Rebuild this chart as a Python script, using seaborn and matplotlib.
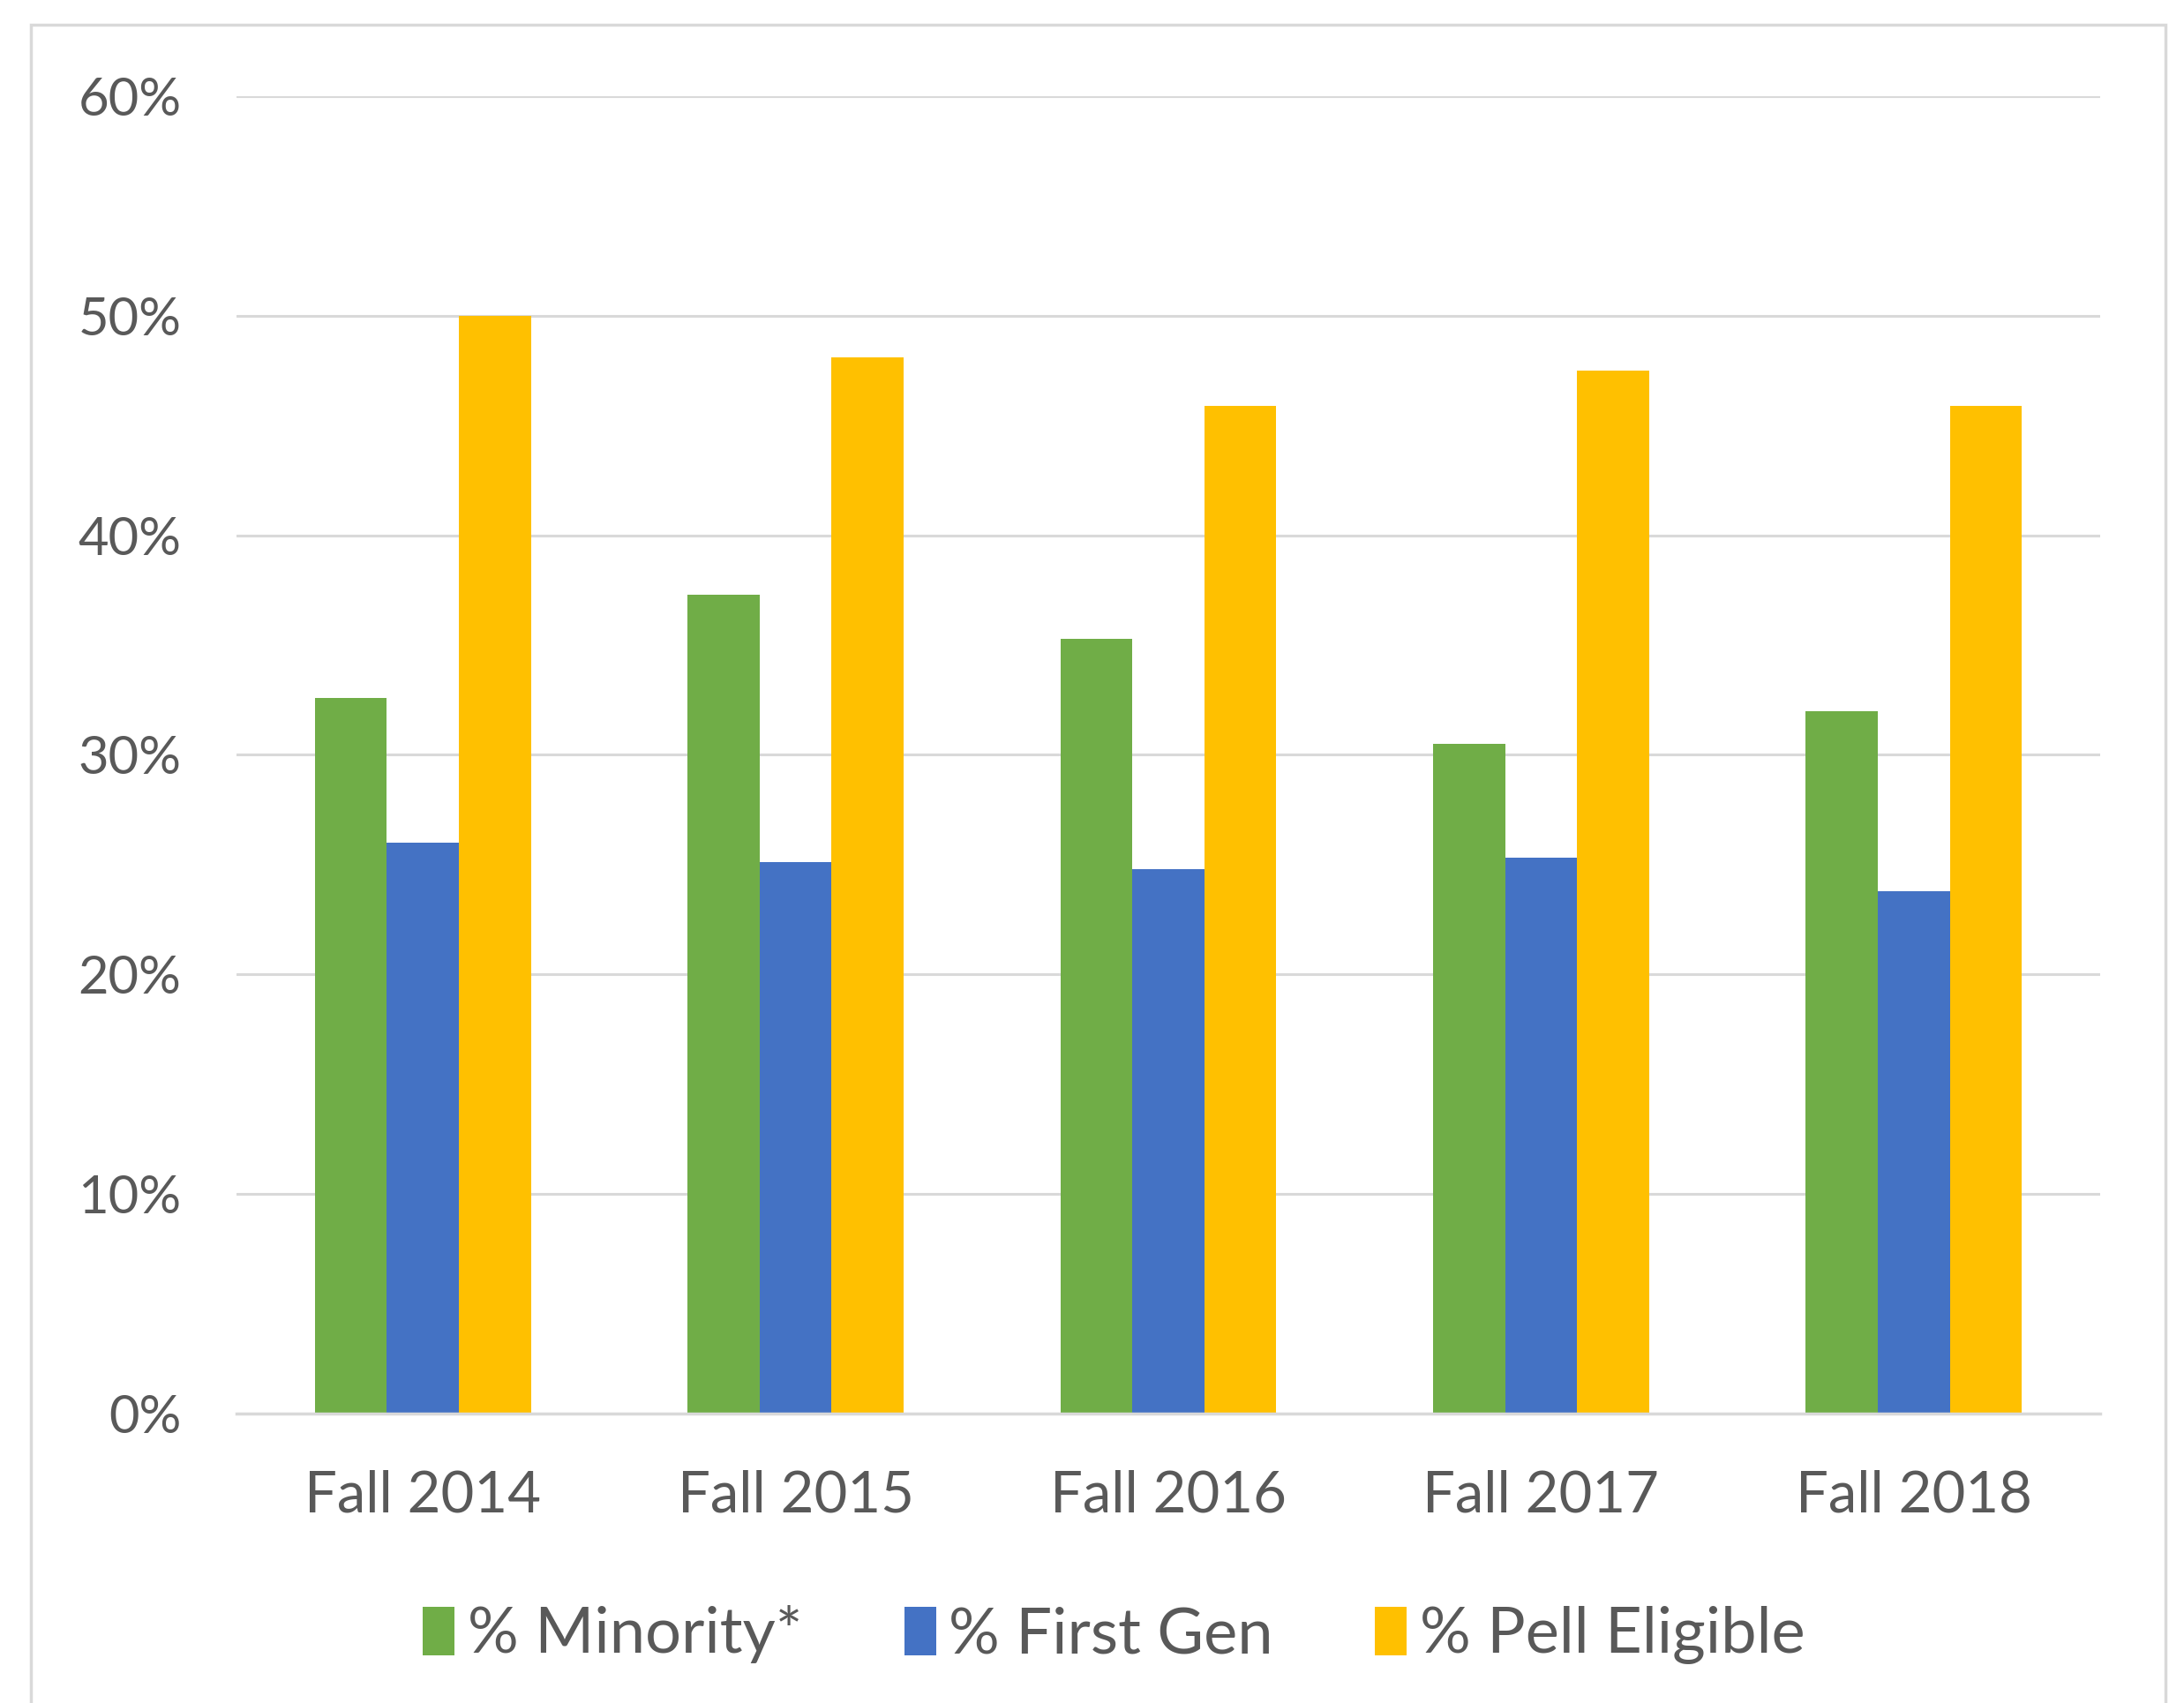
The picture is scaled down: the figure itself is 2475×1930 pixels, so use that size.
import pandas as pd
import seaborn as sns
import matplotlib.pyplot as plt
from matplotlib.patches import Rectangle

# values (percent)
terms = ['Fall 2014', 'Fall 2015', 'Fall 2016', 'Fall 2017', 'Fall 2018']
minority = [32.6, 37.3, 35.3, 30.5, 32.0]
first_gen = [26.0, 25.1, 24.8, 25.3, 23.8]
pell = [50.0, 48.1, 45.9, 47.5, 45.9]
series = ['% Minority*', '% First Gen', '% Pell Eligible']
colors = ['#70AD47', '#4472C4', '#FFC000']

df = pd.DataFrame({'term': terms, series[0]: minority,
                   series[1]: first_gen, series[2]: pell})
df = df.melt(id_vars='term', var_name='group', value_name='pct')

sns.set_style('white')
plt.rcParams['font.family'] = ['Lato', 'DejaVu Sans']

fig = plt.figure(figsize=(24.75, 19.3), dpi=100)
ax = fig.add_axes([0.1083, 0.170, 0.8533, 0.7735])

sns.barplot(data=df, x='term', y='pct', hue='group', palette=colors,
            width=0.58, gap=0, saturation=1, linewidth=0, ax=ax, legend=True)

ax.set_ylim(0, 60)
ax.set_xlim(-0.5, 4.5)
ax.set_yticks(range(0, 61, 10))
ax.set_yticklabels([f'{v}%' for v in range(0, 61, 10)])
ax.yaxis.grid(True, color='#d9d9d9', linewidth=2.2)
ax.set_axisbelow(True)
for s in ['top', 'right', 'left']:
    ax.spines[s].set_visible(False)
ax.spines['bottom'].set_color('#d9d9d9')
ax.spines['bottom'].set_linewidth(2.5)
ax.set_xlabel('')
ax.set_ylabel('')
ax.tick_params(axis='y', length=0, pad=45, labelsize=43, labelcolor='#595959')
ax.tick_params(axis='x', length=0, pad=46, labelsize=47, labelcolor='#595959')

ax.legend(loc='center', bbox_to_anchor=(0.51, 0.040), bbox_transform=fig.transFigure,
          ncol=3, frameon=False, fontsize=52, handlelength=0.5, handleheight=0.8,
          handletextpad=0.2, columnspacing=1.6, labelcolor='#595959')

# light chart-area border
fig.patches.append(Rectangle((35 / 2475, -0.01), (2454 - 35) / 2475, 1 - 28 / 1930 + 0.01,
                             transform=fig.transFigure, fill=False,
                             edgecolor='#d9d9d9', linewidth=2.5))

fig.savefig('out.png', dpi=100)
